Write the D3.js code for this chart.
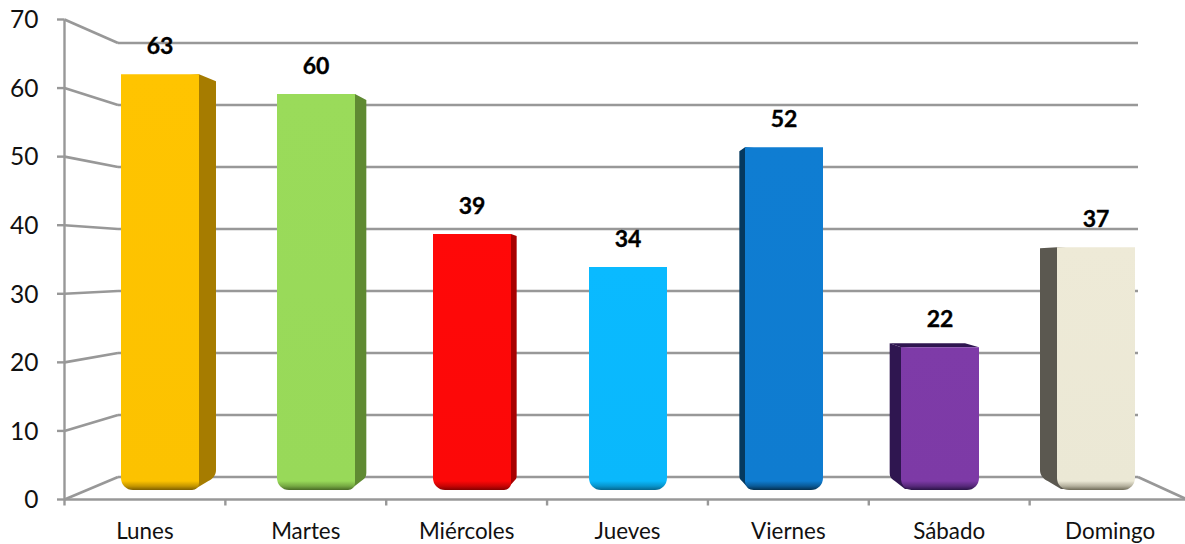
<!DOCTYPE html>
<html><head><meta charset="utf-8">
<script src="https://cdn.jsdelivr.net/npm/d3@7"></script>
<style>html,body{margin:0;padding:0;background:#fff}svg{display:block}text{font-family:Lato,"Open Sans",sans-serif}</style>
</head><body><svg id="c" width="1185" height="544"></svg>
<script>
const categories = ["Lunes","Martes","Miércoles","Jueves","Viernes","Sábado","Domingo"];
const values = [63.2,60.2,38.9,33.9,52.1,21.7,36.9];
const frontColors = ["#FFC400","#9ADB5A","#FF0808","#0ABAFF","#0F7DD2","#7E3BA8","#EEEAD7"];
const sideColors = ["#A67C00","#5F8A32","#A80000","#067AA8","#05395F","#2F1650","#5B5850"];
const bottomColors = ["#7F6000","#4A6B26","#850000","#05678F","#04304F","#2A1447","#6F6B58"];
const yTicks = [0,10,20,30,40,50,60,70];
// depth of each bar's side face at its top edge (perspective drawing constants)
const sideDrop = [7,6,2,0,4,-4,1];

const svg = d3.select("#c");
const defs = svg.append("defs");
const gridColor = "#989898";

const yFront = d3.scaleLinear().domain([0,70]).range([499.5,19.5]);
const yBack = d3.scaleLinear().domain([0,70]).range([477,43]);
const yBar = d3.scaleLinear().domain([0,70]).range([490,29.4]);
const xAxis = d3.scaleBand().domain(categories).range([64.5,1190.5]);
const xBar = d3.scaleBand().domain(categories).range([82,1174]).paddingInner(0.5).paddingOuter(0.25);

const axisX0 = xAxis.range()[0], backL = 118, backR = 1138;

const grid = svg.append("g").attr("stroke",gridColor).attr("stroke-width",2.6).attr("fill","none");
grid.selectAll("line.h").data(yTicks).join("line").attr("class","h")
  .attr("x1",backL).attr("x2",backR).attr("y1",yBack).attr("y2",yBack);
grid.selectAll("line.d").data(yTicks).join("line").attr("class","d")
  .attr("x1",axisX0).attr("x2",backL).attr("y1",yFront).attr("y2",yBack);
grid.append("line").attr("x1",backR).attr("y1",yBack(0)).attr("x2",1185).attr("y2",yFront(0)-1);

const ax = svg.append("g").attr("stroke",gridColor).attr("stroke-width",2.4);
ax.append("line").attr("x1",axisX0).attr("x2",axisX0).attr("y1",yFront(70)).attr("y2",yFront(0)+6);
ax.append("line").attr("x1",axisX0).attr("x2",1185).attr("y1",yFront(0)).attr("y2",yFront(0));
ax.selectAll("line.t").data(yTicks).join("line").attr("class","t")
  .attr("x1",57).attr("x2",axisX0).attr("y1",yFront).attr("y2",yFront);
ax.selectAll("line.c").data(categories.slice(1)).join("line").attr("class","c")
  .attr("x1",d=>xAxis(d)).attr("x2",d=>xAxis(d)).attr("y1",yFront(0)).attr("y2",yFront(0)+6);

svg.append("g").selectAll("text").data(yTicks).join("text")
  .attr("x",38.5).attr("y",yFront).attr("dy","0.36em").attr("text-anchor","end")
  .attr("font-size",24.5).attr("fill","#111").text(d=>d);
svg.append("g").selectAll("text").data(categories).join("text")
  .attr("x",d=>xAxis(d)+xAxis.bandwidth()/2).attr("y",531).attr("dy","0.36em").attr("text-anchor","middle")
  .attr("font-size",22.4).attr("fill","#111").text(d=>d);

const vanish = 628, depth = -0.0363, w = xBar.bandwidth();
const base = yBar(0);
const bars = svg.append("g").selectAll("g").data(categories).join("g");

bars.each(function(c,i){
  const g = d3.select(this), x0 = xBar(c), x1 = x0 + w, top = yBar(values[i]);
  const off = depth*(x0 + w/2 - vanish);
  const right = off > 0.5, left = off < -0.5, edge = right ? x1 : x0, far = edge + off;
  const sign = right ? 1 : -1;
  const rOuter = 12, rInner = 7;
  const rL = left ? rInner + Math.abs(off)*0.3 : rOuter;
  const rR = right ? rInner : rOuter;

  if (right || left) {
    const sideBottom = base - 13 - Math.abs(off)*0.4;
    const p = d3.path();
    p.moveTo(edge - sign*12, top + 1);
    p.lineTo(edge, top);
    p.lineTo(far, top + sideDrop[i]);
    p.lineTo(far, sideBottom);
    p.bezierCurveTo(far, sideBottom+5, edge + off*0.8, base-11, edge + off*0.55, base-9);
    p.lineTo(edge - sign*4, base-1);
    p.lineTo(edge - sign*12, base-1);
    p.closePath();
    g.append("path").attr("d",p.toString()).attr("fill",sideColors[i]);
    if (sideDrop[i] < 0) {
      const t = d3.path();
      t.moveTo(far, top + sideDrop[i]);
      t.lineTo(x1-14, top + sideDrop[i]);
      t.lineTo(x1, top);
      t.lineTo(edge, top);
      t.closePath();
      g.append("path").attr("d",t.toString()).attr("fill",sideColors[i]);
    }
  }

  const f = d3.path();
  f.moveTo(x0, top);
  f.lineTo(x1, top);
  f.lineTo(x1, base-rR);
  f.arcTo(x1, base, x1-rR, base, rR);
  f.lineTo(x0+rL, base);
  f.arcTo(x0, base, x0, base-rL, rL);
  f.closePath();

  const gid = "grad"+i;
  const lg = defs.append("linearGradient").attr("id",gid).attr("gradientUnits","userSpaceOnUse")
    .attr("x1",0).attr("x2",0).attr("y1",top).attr("y2",base);
  const k = (base-9-top)/(base-top), k2 = (base-4-top)/(base-top);
  const frontC = d3.color(frontColors[i]);
  lg.append("stop").attr("offset",0).attr("stop-color",frontC);
  lg.append("stop").attr("offset",k).attr("stop-color",frontC.darker(0.03));
  lg.append("stop").attr("offset",k2).attr("stop-color",d3.interpolateRgb(frontColors[i],bottomColors[i])(0.45));
  lg.append("stop").attr("offset",1).attr("stop-color",bottomColors[i]);
  g.append("path").attr("d",f.toString()).attr("fill",`url(#${gid})`);
});

svg.append("g").selectAll("text").data(categories).join("text")
  .attr("x",d=>xBar(d)+w/2).attr("y",(d,i)=>yBar(values[i])-28.2).attr("dy","0.36em")
  .attr("text-anchor","middle").attr("font-size",23).attr("font-weight",700).attr("fill","#000")
  .attr("stroke","#000").attr("stroke-width",0.35)
  .text((d,i)=>d3.format(".0f")(values[i]));
</script></body></html>
